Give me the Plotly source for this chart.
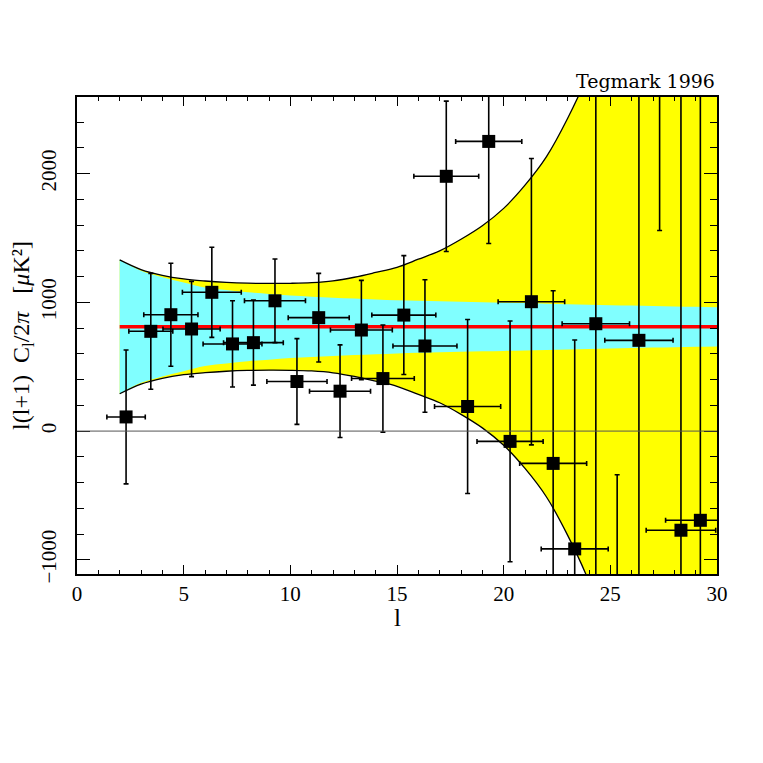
import plotly.graph_objects as go

# COBE-style power spectrum points (l, l(l+1)C_l/2pi)
l_vals = [2.3, 3.46, 4.40, 5.37, 6.32, 7.29, 8.27, 9.28, 10.31, 11.33, 12.33, 13.33,
          14.34, 15.32, 16.31, 17.31, 18.31, 19.30, 20.30, 21.30, 22.32, 23.33,
          24.32, 25.32, 26.34, 27.31, 28.31, 29.22]
cl_vals = [110, 775, 904, 793, 1078, 677, 687, 1012, 385, 881, 310, 785,
           408, 901, 661, 1979, 191, 2250, -80, 1005, -251, -915,
           834, -2700, 705, 4300, -770, -693]
cl_err = [520, 450, 400, 370, 350, 335, 330, 325, 333, 344, 360, 386,
          416, 462, 515, 584, 676, 793, 935, 1112, 1341, 1623,
          2200, 2361, 2200, 2742, 3600, 3800]
l_err = [0.9, 1.03, 1.27, 1.34, 1.38, 1.38, 1.4, 1.43, 1.41, 1.43, 1.43, 1.45,
         1.47, 1.5, 1.5, 1.52, 1.55, 1.55, 1.55, 1.56, 1.57, 1.57,
         1.58, 1.6, 1.6, 1.6, 1.63, 1.63]

# model and bands
model_cl = 810
band_l = list(range(2, 31))
cyan_hi = [1330, 1245, 1195, 1155, 1115, 1095, 1078, 1065, 1053, 1044, 1036, 1029,
           1023, 1017, 1012, 1008, 1004, 1000, 997, 994, 990, 986, 982, 978,
           975, 971, 968, 965, 962]
cyan_lo = [290, 375, 425, 465, 505, 525, 542, 555, 567, 576, 584, 591,
           597, 603, 608, 612, 616, 620, 623, 626, 630, 634, 638, 642,
           645, 649, 652, 655, 658]
yellow_hi = [1330, 1255, 1210, 1182, 1166, 1155, 1149, 1147, 1148, 1153, 1167, 1195,
             1232, 1272, 1335, 1400, 1490, 1595, 1730, 1910, 2130, 2430, 2790, 3260,
             3860, 4610, 5560, 6760, 8210]
yellow_lo = [290, 365, 410, 438, 454, 465, 471, 473, 472, 467, 453, 425,
             388, 348, 285, 220, 130, 25, -110, -290, -510, -810, -1170, -1640,
             -2240, -2990, -3940, -5140, -6590]

x_range = [0, 30]
y_range = [-1110, 2595]

serif = "Liberation Serif"

fig = go.Figure()

fig.add_trace(go.Scatter(x=band_l, y=yellow_lo, mode="lines", line=dict(width=0, shape="spline"),
                         showlegend=False, hoverinfo="skip"))
fig.add_trace(go.Scatter(x=band_l, y=yellow_hi, mode="lines", line=dict(width=0, shape="spline"),
                         fill="tonexty", fillcolor="#ffff00", showlegend=False, hoverinfo="skip"))
fig.add_trace(go.Scatter(x=band_l, y=cyan_lo, mode="lines", line=dict(width=0, shape="spline"),
                         showlegend=False, hoverinfo="skip"))
fig.add_trace(go.Scatter(x=band_l, y=cyan_hi, mode="lines", line=dict(width=0, shape="spline"),
                         fill="tonexty", fillcolor="#80ffff", showlegend=False, hoverinfo="skip"))
for edge in (yellow_hi, yellow_lo):
    fig.add_trace(go.Scatter(x=band_l, y=edge, mode="lines",
                             line=dict(color="black", width=1.3, shape="spline"),
                             showlegend=False, hoverinfo="skip"))

fig.add_trace(go.Scatter(x=band_l, y=[model_cl] * len(band_l), mode="lines",
                         line=dict(color="#ff0000", width=3.5), showlegend=False))

fig.add_trace(go.Scatter(
    x=l_vals, y=cl_vals, mode="markers",
    marker=dict(symbol="square", size=13, color="black"),
    error_y=dict(type="data", array=cl_err, color="black", thickness=1.6, width=2.5),
    error_x=dict(type="data", array=l_err, color="black", thickness=1.6, width=2.5),
    showlegend=False))

fig.add_shape(type="line", xref="paper", x0=0, x1=1, yref="y", y0=0, y1=0,
              line=dict(color="#555555", width=1), layer="above")

fig.add_annotation(text="Tegmark 1996", xref="paper", yref="paper", x=1, y=1,
                   xanchor="right", yanchor="bottom", yshift=3, showarrow=False,
                   font=dict(family="DejaVu Serif", size=19, color="black"))

# x axis title placed as annotation so it sits close to the tick labels
fig.add_annotation(text="l", xref="paper", yref="paper", x=0.5, y=0,
                   xanchor="center", yanchor="top", yshift=-28, showarrow=False,
                   font=dict(family=serif, size=25, color="black"))

fig.update_xaxes(range=x_range, dtick=5, tick0=0, ticks="inside", ticklen=9, tickwidth=1.3,
                 tickcolor="black", showline=True, linecolor="black", linewidth=1.6,
                 mirror="allticks", showgrid=False, zeroline=False, layer="above traces",
                 automargin=False,
                 minor=dict(dtick=1, ticks="inside", ticklen=4.5, tickwidth=1.2, tickcolor="black"),
                 tickfont=dict(family=serif, size=21, color="black"))
fig.update_yaxes(range=y_range, dtick=1000, tick0=0, ticks="inside", ticklen=13, tickwidth=1.3,
                 tickcolor="black", showline=True, linecolor="black", linewidth=1.6,
                 mirror="allticks", showgrid=False, zeroline=False, layer="above traces",
                 automargin=False, tickangle=-90, ticklabelstandoff=11,
                 minor=dict(dtick=200, ticks="inside", ticklen=7, tickwidth=1.2, tickcolor="black"),
                 tickfont=dict(family=serif, size=21, color="black"),
                 title=dict(text="l(l+1)  C<sub>l</sub>/2<i>π</i>   [<i>μ</i>K²]",
                            font=dict(family=serif, size=24, color="black"), standoff=18))

fig.update_layout(width=763, height=763, autosize=False,
                  margin=dict(l=69, r=54, t=89, b=197),
                  plot_bgcolor="white", paper_bgcolor="white")

fig.write_html("out.html")
